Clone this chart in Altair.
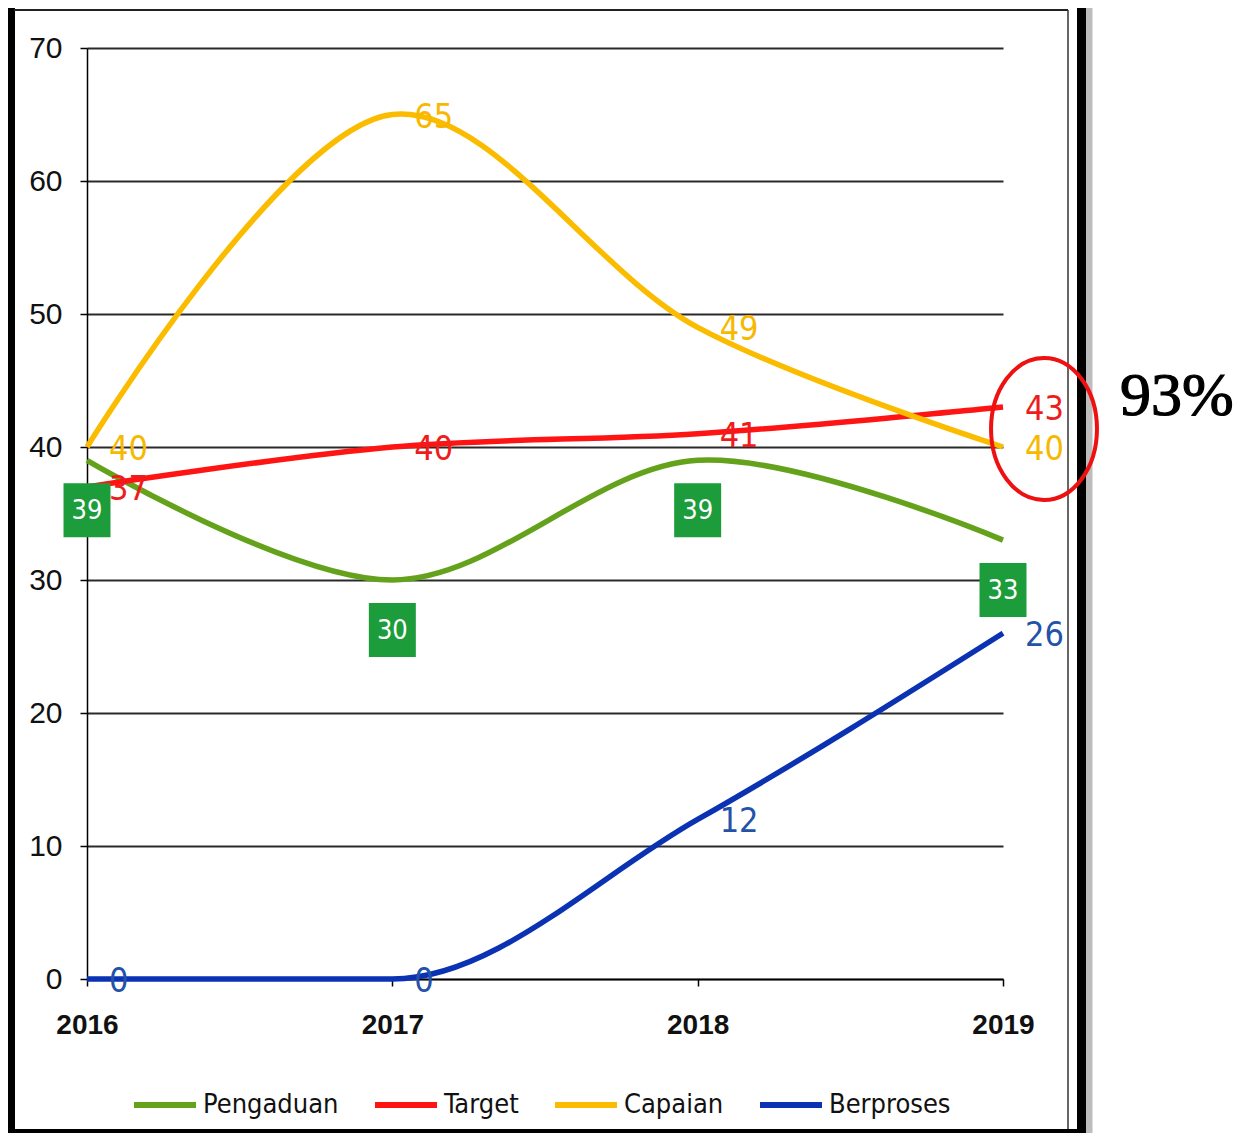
import altair as alt
import pandas as pd

# ---------------- data ----------------
years = [2016, 2017, 2018, 2019]
series_names = ["Pengaduan", "Target", "Capaian", "Berproses"]
pengaduan = [39, 30, 39, 33]
target = [37, 40, 41, 43]
capaian = [40, 65, 49, 40]
berproses = [0, 0, 12, 26]
line_colors = ["#64a21c", "#ff1414", "#fbbc00", "#0a32b2"]
label_colors = ["#ffffff", "#ee1c1c", "#f7b800", "#2352a8"]
box_color = "#1c9c3a"
y_ticks = [0, 10, 20, 30, 40, 50, 60, 70]
annotation_text = "93%"

values_by_series = {
    "Pengaduan": pengaduan,
    "Target": target,
    "Capaian": capaian,
    "Berproses": berproses,
}

rows = []
for s_i, s in enumerate(series_names):
    for y_i, yr in enumerate(years):
        rows.append({
            "year": yr,
            "series": s,
            "value": values_by_series[s][y_i],
            "order": s_i,
            "lblcolor": label_colors[s_i],
        })
df = pd.DataFrame(rows)

W, H = 916, 931
FONT = "DejaVu Sans Condensed, Open Sans, sans-serif"

x_enc = alt.X("year:Q",
              scale=alt.Scale(domain=[years[0], years[-1]], nice=False, zero=False),
              axis=alt.Axis(values=years, format="d", title=None, grid=False,
                            tickSize=7, tickColor="black", tickWidth=1.5,
                            domainColor="black", domainWidth=1.5,
                            labelFontSize=28, labelFont="Liberation Sans", labelFontWeight="bold",
                            labelColor="#111", labelPadding=25, labelFlush=False,
                            labelOverlap=False))
y_enc = alt.Y("value:Q",
              scale=alt.Scale(domain=[y_ticks[0], y_ticks[-1]], nice=False),
              axis=alt.Axis(values=y_ticks, title=None, grid=True,
                            gridColor="#2a2a2a", gridWidth=1.8,
                            tickSize=7, tickColor="black", tickWidth=1.5,
                            domainColor="black", domainWidth=1.5,
                            labelFontSize=30, labelFont="Liberation Sans",
                            labelColor="#111", labelPadding=18))

color_enc = alt.Color("series:N",
                      scale=alt.Scale(domain=series_names, range=line_colors),
                      sort=series_names,
                      legend=alt.Legend(title=None, orient="none", direction="horizontal",
                                        legendX=44, legendY=1023,
                                        symbolType="stroke", symbolSize=3844,
                                        symbolStrokeWidth=6, labelFontSize=27,
                                        labelFont=FONT, labelColor="#111",
                                        labelOffset=4, columnPadding=24))

base = alt.Chart(df)

lines_smooth = base.transform_filter(
    alt.FieldOneOfPredicate(field="series", oneOf=["Pengaduan", "Target", "Capaian"])
).mark_line(interpolate="catmull-rom", strokeWidth=5.5).encode(
    x=x_enc, y=y_enc, color=color_enc, detail="series:N",
)

lines_mono = base.transform_filter(
    alt.FieldEqualPredicate(field="series", equal="Berproses")
).mark_line(interpolate="monotone", strokeWidth=5.5).encode(
    x=x_enc, y=y_enc, color=color_enc,
)

labels = base.transform_filter(
    alt.FieldOneOfPredicate(field="series", oneOf=["Target", "Capaian", "Berproses"])
).mark_text(align="left", baseline="middle", dx=22, dy=3, fontSize=34, font=FONT).encode(
    x="year:Q", y="value:Q",
    text="value:Q",
    color=alt.Color("lblcolor:N", scale=None),
)

boxes = base.transform_filter(
    alt.FieldEqualPredicate(field="series", equal="Pengaduan")
).mark_point(shape="M-0.87,-1L0.87,-1L0.87,1L-0.87,1Z", size=2916, filled=True,
             opacity=1, color=box_color, yOffset=50).encode(
    x="year:Q", y="value:Q",
)

box_text = base.transform_filter(
    alt.FieldEqualPredicate(field="series", equal="Pengaduan")
).mark_text(align="center", baseline="middle", fontSize=27, font=FONT,
            color="white", yOffset=51).encode(
    x="year:Q", y="value:Q", text="value:Q",
)

dummy = alt.Chart(pd.DataFrame({"d": [0]}))

frame_left = dummy.mark_rule(color="black", strokeWidth=8).encode(
    x=alt.value(-76), y=alt.value(-40), y2=alt.value(1090))
frame_top = dummy.mark_rule(color="#222", strokeWidth=2).encode(
    x=alt.value(-73), x2=alt.value(981), y=alt.value(-38))
frame_inner_right = dummy.mark_rule(color="#333", strokeWidth=1.5).encode(
    x=alt.value(981), y=alt.value(-38), y2=alt.value(1090))
frame_shadow = dummy.mark_rule(color="#bdbdbd", strokeWidth=7).encode(
    x=alt.value(1002), y=alt.value(-40), y2=alt.value(1090))
frame_right = dummy.mark_rule(color="black", strokeWidth=9).encode(
    x=alt.value(994.5), y=alt.value(-40), y2=alt.value(1090))
frame_bottom = dummy.mark_rule(color="black", strokeWidth=4).encode(
    x=alt.value(-80), x2=alt.value(999), y=alt.value(1083))

ellipse = dummy.mark_point(
    shape="M-0.746,0A0.746,1 0 1,1 0.746,0A0.746,1 0 1,1 -0.746,0Z",
    size=20164, filled=False, color="#ee1111", strokeWidth=4, opacity=1,
).encode(x=alt.value(957), y=alt.value(381))

pct = dummy.mark_text(align="left", baseline="alphabetic", fontSize=62,
                      font="Liberation Serif", color="black", stroke="black",
                      strokeWidth=1.2).encode(
    x=alt.value(1033), y=alt.value(367), text=alt.value(annotation_text))

chart = alt.layer(
    frame_shadow, frame_left, frame_top, frame_inner_right, frame_right, frame_bottom,
    lines_smooth, lines_mono, labels, boxes, box_text, ellipse, pct,
).properties(
    width=W, height=H,
    autosize=alt.AutoSizeParams(type="none"),
    padding={"left": 79, "top": 40, "right": 230, "bottom": 154},
    background="white",
).configure_view(stroke=None)

chart.save("out.html", embed_options={"renderer": "svg", "actions": False})
